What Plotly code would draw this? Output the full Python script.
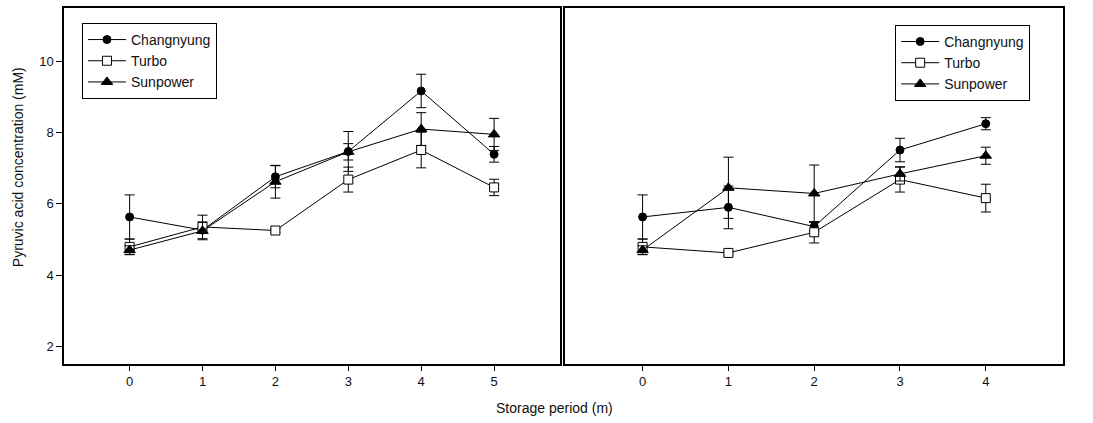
import plotly.graph_objects as go

# ---- data ----
periods_left = [0, 1, 2, 3, 4, 5]
periods_right = [0, 1, 2, 3, 4]

chang_left = [5.63, 5.26, 6.76, 7.47, 9.17, 7.39]
chang_left_err = [0.62, 0.08, 0.31, 0.56, 0.47, 0.22]
turbo_left = [4.79, 5.35, 5.25, 6.68, 7.51, 6.46]
turbo_left_err = [0.22, 0.33, 0.05, 0.35, 0.50, 0.23]
sun_left = [4.70, 5.24, 6.62, 7.46, 8.10, 7.95]
sun_left_err = [0.12, 0.25, 0.46, 0.23, 0.46, 0.45]

chang_right = [5.63, 5.90, 5.36, 7.51, 8.25]
chang_right_err = [0.62, 0.60, 0.12, 0.33, 0.17]
turbo_right = [4.79, 4.62, 5.20, 6.68, 6.16]
turbo_right_err = [0.22, 0.05, 0.30, 0.35, 0.39]
sun_right = [4.70, 6.45, 6.29, 6.84, 7.35]
sun_right_err = [0.12, 0.86, 0.80, 0.20, 0.24]

series_names = ["Changnyung", "Turbo", "Sunpower"]
y_ticks = [2, 4, 6, 8, 10]

FONT = "Liberation Sans, Arial, sans-serif"
TXT = "#111"

markers = [
    dict(symbol="circle", size=8, color="black", line=dict(color="black", width=1)),
    dict(symbol="square", size=9, color="white", line=dict(color="black", width=1)),
    dict(symbol="triangle-up", size=10, color="black", line=dict(color="black", width=1)),
]

fig = go.Figure()

left_data = [(chang_left, chang_left_err), (turbo_left, turbo_left_err), (sun_left, sun_left_err)]
right_data = [(chang_right, chang_right_err), (turbo_right, turbo_right_err), (sun_right, sun_right_err)]

for name, (vals, errs), mk in zip(series_names, left_data, markers):
    fig.add_trace(go.Scatter(
        x=periods_left, y=vals, name=name, mode="lines+markers",
        line=dict(color="black", width=1), marker=mk,
        error_y=dict(type="data", array=errs, color="black", thickness=1, width=5),
        xaxis="x", yaxis="y", legend="legend",
    ))

for name, (vals, errs), mk in zip(series_names, right_data, markers):
    fig.add_trace(go.Scatter(
        x=periods_right, y=vals, name=name, mode="lines+markers",
        line=dict(color="black", width=1), marker=mk,
        error_y=dict(type="data", array=errs, color="black", thickness=1, width=5),
        xaxis="x2", yaxis="y2", legend="legend2",
    ))

axis_common = dict(showline=True, linecolor="black", linewidth=1.5, mirror=True,
                   showgrid=False, zeroline=False,
                   tickfont=dict(family=FONT, size=13, color=TXT))

fig.update_layout(
    width=1093, height=423,
    margin=dict(l=64, r=30, t=6, b=59),
    paper_bgcolor="white", plot_bgcolor="white",
    font=dict(family=FONT, color=TXT),
    xaxis=dict(domain=[0, 0.4962], range=[-0.9, 5.9], tickvals=periods_left,
               ticks="outside", ticklen=5, tickcolor="black", anchor="y", **axis_common),
    yaxis=dict(range=[1.5, 11.5], tickvals=y_ticks, ticks="outside", ticklen=6,
               tickcolor="black", anchor="x", **axis_common),
    xaxis2=dict(domain=[0.5019, 1], range=[-0.9, 4.9], tickvals=periods_right,
                ticks="outside", ticklen=5, tickcolor="black", anchor="y2", **axis_common),
    yaxis2=dict(range=[1.5, 11.5], showticklabels=False, ticks="", anchor="x2", **axis_common),
    legend=dict(x=0.018, y=0.958, xanchor="left", yanchor="top", itemwidth=38,
                bordercolor="black", borderwidth=1, bgcolor="white",
                font=dict(family=FONT, size=14, color=TXT), tracegroupgap=0),
    legend2=dict(x=0.832, y=0.9525, xanchor="left", yanchor="top", itemwidth=38,
                 bordercolor="black", borderwidth=1, bgcolor="white",
                 font=dict(family=FONT, size=14, color=TXT), tracegroupgap=0),
    showlegend=True,
    annotations=[
        dict(text="Storage period (m)", xref="paper", yref="paper",
             x=0.4905, y=-0.123, xanchor="center", yanchor="middle", showarrow=False,
             font=dict(family=FONT, size=14, color=TXT)),
        dict(text="Pyruvic acid concentration (mM)", xref="paper", yref="paper",
             x=-0.046, y=0.553, xanchor="center", yanchor="middle", textangle=-90,
             showarrow=False, font=dict(family=FONT, size=14, color=TXT)),
    ],
)

fig.write_html("out.html", config={"displayModeBar": False},
               post_script="document.body.style.margin='0';")
